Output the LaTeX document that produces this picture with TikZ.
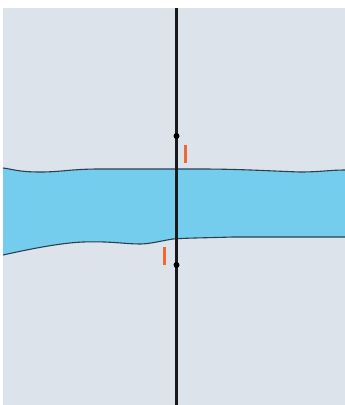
\documentclass[tikz,border=0pt]{standalone}
\usetikzlibrary{calc}
\definecolor{bg}{HTML}{DCE3EA}
\definecolor{water}{HTML}{74CDEC}
\definecolor{bankcol}{HTML}{2A4050}
\definecolor{markorange}{HTML}{EE6A2E}
\begin{document}
\begin{tikzpicture}[x=1pt,y=-1pt,
  bank/.style={bankcol,line width=1.1pt},
  road/.style={black!90,line width=2.6pt},
  markline/.style={markorange,line width=3pt},
  dot/.style={circle,fill=black,inner sep=0pt,minimum size=6pt}]
\useasboundingbox (0,0) rectangle (345,405);
\fill[bg] (3,8) rectangle (345,405);
% river
\fill[water] (3,168) .. controls (12,169) and (18,172) .. (40,172)
  .. controls (62,172) and (70,169) .. (100,169)
  -- (200,169) .. controls (240,169) and (270,171) .. (300,172)
  .. controls (320,172) and (330,170) .. (345,170)
  -- (345,237) -- (233,237) .. controls (200,238) and (185,238) .. (173,239)
  .. controls (160,241) and (150,244) .. (140,244)
  .. controls (125,244) and (110,241) .. (83,242)
  .. controls (60,243) and (30,249) .. (3,255) -- cycle;
\draw[bank] (3,168) .. controls (12,169) and (18,172) .. (40,172)
  .. controls (62,172) and (70,169) .. (100,169)
  -- (200,169) .. controls (240,169) and (270,171) .. (300,172)
  .. controls (320,172) and (330,170) .. (345,170);
\draw[bank] (345,237) -- (233,237) .. controls (200,238) and (185,238) .. (173,239)
  .. controls (160,241) and (150,244) .. (140,244)
  .. controls (125,244) and (110,241) .. (83,242)
  .. controls (60,243) and (30,249) .. (3,255);
% road
\coordinate (top) at (176.5,8);
\coordinate (bot) at (176.5,405);
\draw[road] (top) -- (bot);
\node[dot] (d1) at (176.5,136) {};
\node[dot] (d2) at (176.5,265) {};
% marks
\coordinate (m1a) at (185,145); \coordinate (m1b) at (185,163);
\coordinate (m2a) at (164.5,247); \coordinate (m2b) at (164.5,265);
\draw[markline] (m1a) -- (m1b);
\draw[markline] (m2a) -- (m2b);
\end{tikzpicture}
\end{document}
